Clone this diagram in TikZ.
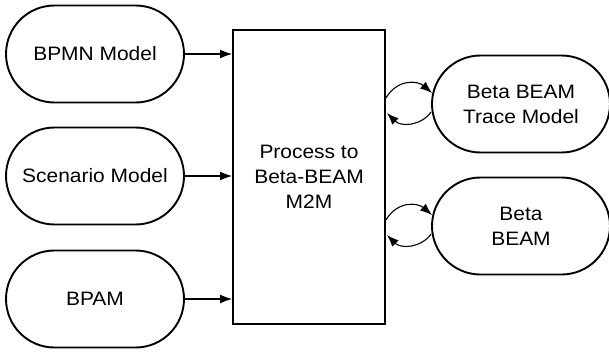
\documentclass[tikz,border=0pt]{standalone}
\usepackage{fontspec}
\setmainfont{Liberation Sans}[FakeStretch=1.08]
\usetikzlibrary{shapes.misc,arrows.meta,calc}
\begin{document}
\begin{tikzpicture}[x=1pt,y=-1pt,
  model/.style={rounded rectangle,draw,line width=1.9pt,minimum width=178pt,minimum height=97pt,inner sep=0pt,align=center,font=\fontsize{19.4}{25}\selectfont},
  proc/.style={rectangle,draw,line width=1.9pt,minimum width=152pt,minimum height=294pt,inner sep=0pt,align=center,font=\fontsize{19.4}{25}\selectfont},
  conn/.style={line width=1.1pt,-{Latex[length=12pt,width=9pt]}},
  loop/.style={line width=1.1pt,-{Latex[length=12pt,width=9pt]}}]
\useasboundingbox (0,0) rectangle (609,353);
\node[model] (bpmn) at (95,54) {BPMN Model};
\node[model] (scen) at (95,176) {Scenario Model};
\node[model] (bpam) at (95,299) {BPAM};
\node[proc] (P) at (309,177) {Process to\\Beta-BEAM\\M2M};
\node[model] (T) at (521,104) {Beta BEAM\\Trace Model};
\node[model] (B) at (521,226) {Beta\\BEAM};
\draw[conn] (bpmn.east) -- (bpmn.east -| P.west);
\draw[conn] (scen.east) -- (scen.east -| P.west);
\draw[conn] (bpam.east) -- (bpam.east -| P.west);
\foreach \n in {T,B}{
  \coordinate (a\n) at ($(\n.west -| P.east)+(0,-6)$);
  \coordinate (b\n) at ($(\n.west)+(1,-11)$);
  \coordinate (c\n) at ($(\n.west)+(0,8)$);
  \coordinate (d\n) at ($(\n.west -| P.east)+(1,9)$);
  \draw[loop] (a\n) .. controls ($(a\n)+(12,-20)$) and ($(b\n)+(-14,-12)$) .. (b\n);
  \draw[loop] (c\n) .. controls ($(c\n)+(-10,14)$) and ($(d\n)+(14,14)$) .. (d\n);
}
\end{tikzpicture}
\end{document}
